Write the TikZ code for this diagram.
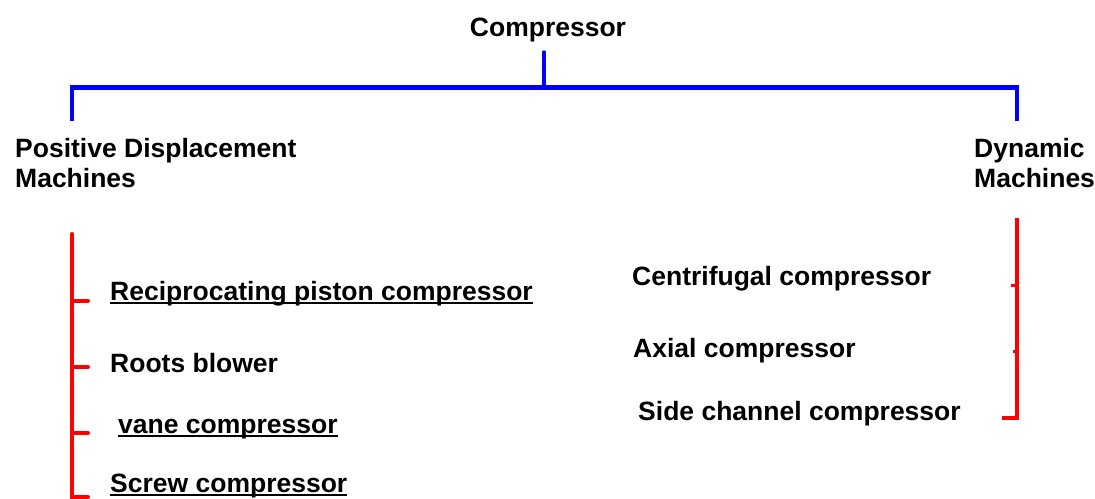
\documentclass[tikz,border=0pt]{standalone}
\usepackage{fontspec}
\setmainfont{Liberation Sans}
\newsavebox\ulbox
\newcommand\ulword[1]{\sbox\ulbox{#1}\rlap{\rule[-4pt]{\wd\ulbox}{1.6pt}}\usebox\ulbox}

\begin{document}
\begin{tikzpicture}[x=1pt,y=-1pt,
    lbl/.style={font=\bfseries\fontsize{26.5}{30}\selectfont,inner sep=0pt,anchor=base west},
    head/.style={font=\bfseries\fontsize{26.5}{30}\selectfont,inner sep=0pt,align=left,anchor=north west},
    bluebar/.style={draw=blue,line width=4pt},
    redbar/.style={draw=red,line width=4pt}]
  \useasboundingbox (0,0) rectangle (1095,498);
  % headings
  \node[lbl,anchor=base] (comp) at (548,36) {Compressor};
  \node[head] (pd) at (15,138) {Positive Displacement\\Machines};
  \node[head] (dyn) at (974,138) {Dynamic\\Machines};
  % blue tree
  \coordinate (stem) at (544,52);
  \coordinate (hub) at (544,87);
  \coordinate (pdleg) at (72,121);
  \coordinate (dynleg) at (1017,121);
  \draw[bluebar,line width=3.5pt,line cap=round] (stem) -- (hub);
  \draw[bluebar,line width=5pt] (72,87) -- (1017,87);
  \draw[bluebar] (pdleg) -- (72,85);
  \draw[bluebar] (dynleg) -- (1017,85);
  % positive displacement list
  \node[lbl] (recip) at (110,300) {\ulword{Reciprocating piston compressor}};
  \node[lbl] (roots) at (110,372) {Roots blower};
  \node[lbl] (vane) at (118,433) {\ulword{vane compressor}};
  \node[lbl] (screw) at (110,492) {\ulword{Screw compressor}};
  \coordinate (ltop) at (72,234);
  \coordinate (lbot) at (72,500);
  \draw[redbar,line cap=round] (ltop) -- (lbot);
  \foreach \y in {301,367,433,497}
    \draw[redbar,line cap=round] (72,\y) -- (88,\y);
  % dynamic list
  \node[lbl] (centri) at (632,285) {Centrifugal compressor};
  \node[lbl] (axial) at (633,357) {Axial compressor};
  \node[lbl] (side) at (638,420) {Side channel compressor};
  \coordinate (rtop) at (1017,218);
  \coordinate (rbot) at (1017,418);
  \draw[redbar] (rtop) -- (rbot) -- (1002,418);
  \draw[redbar,line width=3pt] (1017,285) -- (1011,285);
  \draw[redbar,line width=3pt] (1017,351) -- (1013,351);
\end{tikzpicture}
\end{document}
